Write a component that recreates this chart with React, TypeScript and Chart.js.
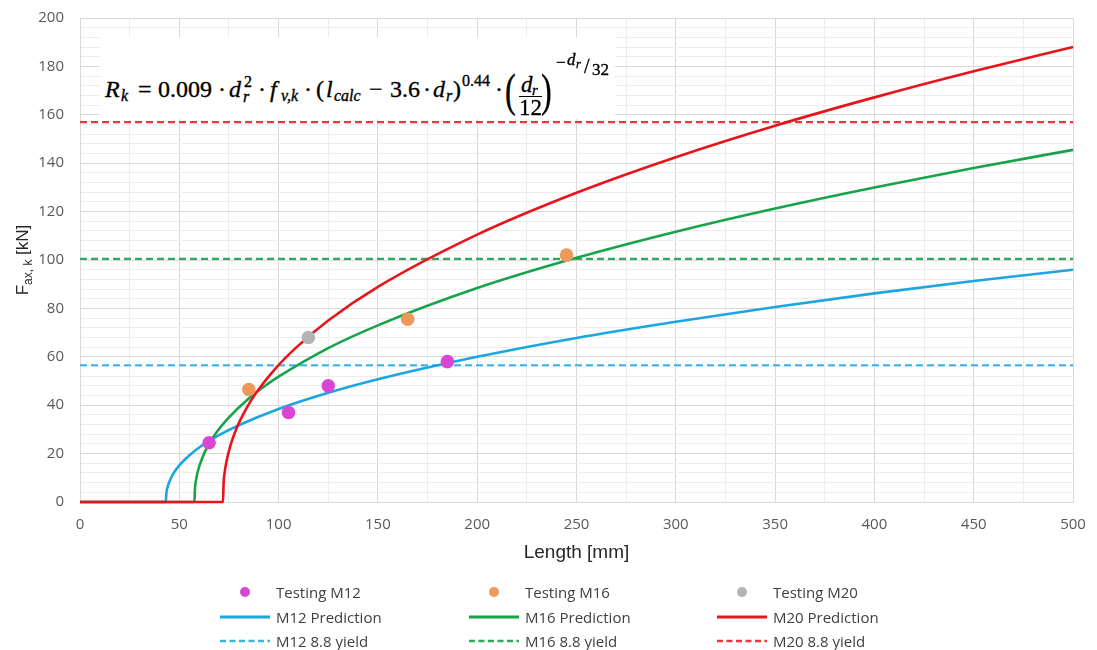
import React, { useEffect, useRef } from 'react';
import { Chart, registerables } from 'chart.js';

Chart.register(...registerables);

// ---- Data ----
const M12_X = [0, 43.2, 43.5, 44, 45, 47, 50, 55, 60, 70, 80, 100, 125, 150, 200, 250, 300, 350, 400, 450, 500];
const M12_Y = [0, 0, 3.8, 5.9, 8.4, 11.7, 15.1, 19.2, 22.5, 27.6, 31.7, 38.4, 45.1, 50.7, 60.0, 67.8, 74.5, 80.6, 86.2, 91.3, 96.0];

const M16_X = [0, 57.6, 57.9, 58.4, 59.4, 61.4, 64.4, 69.4, 74.4, 84.4, 94.4, 100, 125, 150, 200, 250, 300, 350, 400, 450, 500];
const M16_Y = [0, 0, 5.9, 9.0, 12.9, 17.9, 23.2, 29.5, 34.5, 42.4, 48.7, 51.8, 63.6, 73.0, 88.4, 100.9, 111.7, 121.3, 130.0, 138.0, 145.5];

const M20_X = [0, 72, 72.3, 72.8, 73.8, 75.8, 78.8, 83.8, 88.8, 98.8, 108.8, 125, 150, 200, 250, 300, 350, 400, 450, 500];
const M20_Y = [0, 0, 7.7, 11.9, 16.9, 23.5, 30.4, 38.7, 45.2, 55.5, 63.8, 75.0, 88.9, 110.5, 127.8, 142.5, 155.5, 167.2, 178.0, 188.0];

const YIELD_X = [0, 500];
const M12_YIELD = 56.5;
const M16_YIELD = 100.5;
const M20_YIELD = 157;

const TEST_M12_X = [65, 105, 125, 185];
const TEST_M12_Y = [24.5, 37, 48, 58];
const TEST_M16_X = [85, 165, 245];
const TEST_M16_Y = [46.5, 75.5, 102];
const TEST_M20_X = [115];
const TEST_M20_Y = [68];

const X_MIN = 0, X_MAX = 500, X_STEP = 25, X_LABEL_STEP = 50;
const Y_MIN = 0, Y_MAX = 200, Y_STEP = 4, Y_LABEL_STEP = 20;

const X_TITLE = 'Length [mm]';
const Y_TITLE_MAIN = 'F';
const Y_TITLE_SUB = 'ax, k';
const Y_TITLE_TAIL = ' [kN]';

// ---- Styles ----
const C_M12 = '#1DA5E0';
const C_M16 = '#17A34A';
const C_M20 = '#E8141B';
const C_M12_Y = '#3AB2E6';
const C_M16_Y = '#2DAB58';
const C_M20_Y = '#E6383E';
const C_P12 = '#D946D4';
const C_P16 = '#F0975A';
const C_P20 = '#B4B4B4';

const pts = (xs: number[], ys: number[]) => xs.map((x, i) => ({ x, y: ys[i] }));
const hline = (v: number) => YIELD_X.map((x) => ({ x, y: v }));

const LEGEND = [
  { label: 'Testing M12', kind: 'dot', color: C_P12 },
  { label: 'Testing M16', kind: 'dot', color: C_P16 },
  { label: 'Testing M20', kind: 'dot', color: C_P20 },
  { label: 'M12 Prediction', kind: 'line', color: C_M12 },
  { label: 'M16 Prediction', kind: 'line', color: C_M16 },
  { label: 'M20 Prediction', kind: 'line', color: C_M20 },
  { label: 'M12 8.8 yield', kind: 'dash', color: C_M12_Y },
  { label: 'M16 8.8 yield', kind: 'dash', color: C_M16_Y },
  { label: 'M20 8.8 yield', kind: 'dash', color: C_M20_Y },
];
const LEG_COLS = [276, 525, 773];
const LEG_ROWS = [592, 617, 641];

const serif = '"Liberation Serif", "DejaVu Serif", serif';
const sans = '"Liberation Sans", Arial, sans-serif';
const ui = '"Open Sans", "Noto Sans", sans-serif';

const titlePlugin = {
  id: 'axisTitles',
  afterDraw(chart: any) {
    const { ctx, chartArea } = chart;
    ctx.save();
    ctx.fillStyle = '#262626';
    ctx.font = `19px ${sans}`;
    ctx.textAlign = 'center';
    ctx.textBaseline = 'middle';
    ctx.fillText(X_TITLE, (chartArea.left + chartArea.right) / 2, 553);

    ctx.translate(22, (chartArea.top + chartArea.bottom) / 2);
    ctx.rotate(-Math.PI / 2);
    ctx.textAlign = 'left';
    ctx.textBaseline = 'alphabetic';
    const fBig = `17px ${sans}`;
    const fSmall = `12px ${sans}`;
    ctx.font = fBig;
    const w1 = ctx.measureText(Y_TITLE_MAIN).width;
    const w3 = ctx.measureText(Y_TITLE_TAIL).width;
    ctx.font = fSmall;
    const w2 = ctx.measureText(Y_TITLE_SUB).width;
    let x = -(w1 + w2 + w3) / 2;
    ctx.font = fBig;
    ctx.fillText(Y_TITLE_MAIN, x, 6);
    x += w1;
    ctx.font = fSmall;
    ctx.fillText(Y_TITLE_SUB, x, 10);
    x += w2;
    ctx.font = fBig;
    ctx.fillText(Y_TITLE_TAIL, x, 6);
    ctx.restore();
  },
};

// Formula box (page coordinates)
const BOX_L = 100, BOX_T = 37, BOX_W = 515, BOX_H = 82;

function Tok({ x, base, size, it, sx, children }: { x: number; base: number; size: number; it?: boolean; sx?: number; children: React.ReactNode }) {
  return (
    <span
      style={{
        position: 'absolute',
        left: x - BOX_L,
        top: base - BOX_T - 0.8375 * size,
        fontSize: size,
        lineHeight: `${size}px`,
        fontStyle: it ? 'italic' : 'normal',
        whiteSpace: 'nowrap',
        transform: sx ? `scaleX(${sx})` : undefined,
        transformOrigin: 'left center',
      }}
    >
      {children}
    </span>
  );
}

function Formula() {
  const M = 24, S = 16, B = 97;
  return (
    <div
      style={{
        position: 'absolute',
        left: BOX_L,
        top: BOX_T,
        width: BOX_W,
        height: BOX_H,
        background: '#fff',
        fontFamily: serif,
        color: '#000',
        WebkitTextStroke: '0.35px #000',
      }}
    >
      <Tok x={105} base={B} size={M} it>R</Tok>
      <Tok x={121} base={B + 4} size={S} it>k</Tok>
      <Tok x={138} base={B} size={M}>=</Tok>
      <Tok x={158} base={B} size={M}>0.009</Tok>
      <Tok x={218} base={B} size={M}>·</Tok>
      <Tok x={229} base={B} size={M} it>d</Tok>
      <Tok x={244} base={B - 10} size={S}>2</Tok>
      <Tok x={243} base={B + 5} size={S} it>r</Tok>
      <Tok x={258} base={B} size={M}>·</Tok>
      <Tok x={270} base={B} size={M} it>f</Tok>
      <Tok x={281} base={B + 4} size={S} it>v,k</Tok>
      <Tok x={304} base={B} size={M}>·</Tok>
      <Tok x={316} base={B} size={M}>(</Tok>
      <Tok x={326} base={B} size={M} it>l</Tok>
      <Tok x={334} base={B + 4} size={S} it>calc</Tok>
      <Tok x={369} base={B} size={M}>−</Tok>
      <Tok x={390} base={B} size={M}>3.6</Tok>
      <Tok x={423} base={B} size={M}>·</Tok>
      <Tok x={433} base={B} size={M} it>d</Tok>
      <Tok x={446} base={B + 4} size={S} it>r</Tok>
      <Tok x={453} base={B} size={M}>)</Tok>
      <Tok x={462} base={B - 11} size={S}>0.44</Tok>
      <Tok x={495} base={B} size={M}>·</Tok>
      <Tok x={505} base={107} size={46} sx={0.7}>(</Tok>
      <Tok x={521} base={92} size={23} it>d</Tok>
      <Tok x={532} base={96} size={15} it>r</Tok>
      <div style={{ position: 'absolute', left: 519 - BOX_L, top: 96 - BOX_T, width: 23, height: 0, borderTop: '1.4px solid #000' }} />
      <Tok x={519} base={115} size={23}>12</Tok>
      <Tok x={541} base={107} size={46} sx={0.7}>)</Tok>
      <Tok x={556} base={68} size={17}>−</Tok>
      <Tok x={567} base={65} size={17} it>d</Tok>
      <Tok x={576} base={68} size={12} it>r</Tok>
      <Tok x={584} base={73} size={20}>/</Tok>
      <Tok x={592} base={75} size={17}>32</Tok>
    </div>
  );
}

function LegendMarker({ kind, color }: { kind: string; color: string }) {
  if (kind === 'dot') {
    return (
      <svg width={52} height={12} style={{ display: 'block' }}>
        <circle cx={26} cy={6} r={5} fill={color} />
      </svg>
    );
  }
  return (
    <svg width={52} height={12} style={{ display: 'block' }}>
      <line
        x1={1}
        y1={6}
        x2={51}
        y2={6}
        stroke={color}
        strokeWidth={kind === 'dash' ? 2.5 : 3}
        strokeDasharray={kind === 'dash' ? '6 3.5' : undefined}
      />
    </svg>
  );
}

function Legend() {
  return (
    <>
      {LEGEND.map((it, i) => {
        const col = i % 3;
        const row = Math.floor(i / 3);
        const tx = LEG_COLS[col];
        const ty = LEG_ROWS[row];
        return (
          <React.Fragment key={it.label}>
            <div style={{ position: 'absolute', left: tx - 57, top: ty - 6 }}>
              <LegendMarker kind={it.kind} color={it.color} />
            </div>
            <div
              style={{
                position: 'absolute',
                left: tx,
                top: ty - 10,
                height: 20,
                lineHeight: '20px',
                fontFamily: ui,
                fontSize: 15,
                color: '#404040',
                whiteSpace: 'nowrap',
              }}
            >
              {it.label}
            </div>
          </React.Fragment>
        );
      })}
    </>
  );
}

export default function App() {
  const canvasRef = useRef<HTMLCanvasElement | null>(null);

  useEffect(() => {
    document.body.style.margin = '0';
    const canvas = canvasRef.current;
    if (!canvas) return;

    const lineDs = (label: string, data: any[], color: string) => ({
      type: 'line' as const,
      label,
      data,
      borderColor: color,
      backgroundColor: color,
      borderWidth: 2.6,
      pointRadius: 0,
      fill: false,
      clip: 4,
      cubicInterpolationMode: 'monotone' as const,
    });
    const dashDs = (label: string, data: any[], color: string) => ({
      type: 'line' as const,
      label,
      data,
      borderColor: color,
      backgroundColor: color,
      borderWidth: 2.2,
      borderDash: [7, 4],
      pointRadius: 0,
      fill: false,
    });
    const dotDs = (label: string, data: any[], color: string) => ({
      type: 'scatter' as const,
      label,
      data,
      backgroundColor: color,
      borderColor: color,
      pointRadius: 6.8,
      pointBorderWidth: 0,
      showLine: false,
    });

    const chart = new Chart(canvas, {
      type: 'scatter',
      data: {
        datasets: [
          dotDs('Testing M12', pts(TEST_M12_X, TEST_M12_Y), C_P12),
          dotDs('Testing M16', pts(TEST_M16_X, TEST_M16_Y), C_P16),
          dotDs('Testing M20', pts(TEST_M20_X, TEST_M20_Y), C_P20),
          lineDs('M20 Prediction', pts(M20_X, M20_Y), C_M20),
          lineDs('M16 Prediction', pts(M16_X, M16_Y), C_M16),
          lineDs('M12 Prediction', pts(M12_X, M12_Y), C_M12),
          dashDs('M20 8.8 yield', hline(M20_YIELD), C_M20_Y),
          dashDs('M16 8.8 yield', hline(M16_YIELD), C_M16_Y),
          dashDs('M12 8.8 yield', hline(M12_YIELD), C_M12_Y),
        ] as any,
      },
      plugins: [titlePlugin],
      options: {
        animation: false,
        responsive: true,
        maintainAspectRatio: false,
        layout: { padding: { left: 0, right: 24, top: 18, bottom: 108 } },
        plugins: {
          legend: { display: false },
          tooltip: { enabled: false },
        },
        scales: {
          x: {
            type: 'linear',
            min: X_MIN,
            max: X_MAX,
            afterFit: (s: any) => {
              s.height = 40;
              s.paddingLeft = 0;
              s.paddingRight = 0;
            },
            ticks: {
              stepSize: X_STEP,
              autoSkip: false,
              maxRotation: 0,
              padding: 14,
              color: '#595959',
              font: { family: ui, size: 15 },
              callback: (v: any) => (Number(v) % X_LABEL_STEP === 0 ? String(v) : ''),
            },
            grid: {
              drawTicks: false,
              lineWidth: 1,
              color: (c: any) => (c.tick && c.tick.value % X_LABEL_STEP === 0 ? '#D9D9D9' : '#EDEDED'),
            },
            border: { display: true, color: '#D9D9D9' },
          },
          y: {
            type: 'linear',
            min: Y_MIN,
            max: Y_MAX,
            afterFit: (s: any) => {
              s.width = 80;
              s.paddingTop = 0;
              s.paddingBottom = 0;
            },
            ticks: {
              stepSize: Y_STEP,
              autoSkip: false,
              padding: 16,
              color: '#595959',
              font: { family: ui, size: 15 },
              callback: (v: any) => (Number(v) % Y_LABEL_STEP === 0 ? String(v) : ''),
            },
            grid: {
              drawTicks: false,
              lineWidth: 1,
              color: (c: any) => (c.tick && c.tick.value % Y_LABEL_STEP === 0 ? '#D9D9D9' : '#EDEDED'),
            },
            border: { display: true, color: '#D9D9D9' },
          },
        },
      } as any,
    });

    return () => chart.destroy();
  }, []);

  return (
    <div style={{ position: 'relative', width: 1097, height: 650, background: '#fff', overflow: 'hidden' }}>
      <canvas ref={canvasRef} style={{ position: 'absolute', left: 0, top: 0 }} />
      <Formula />
      <Legend />
    </div>
  );
}
